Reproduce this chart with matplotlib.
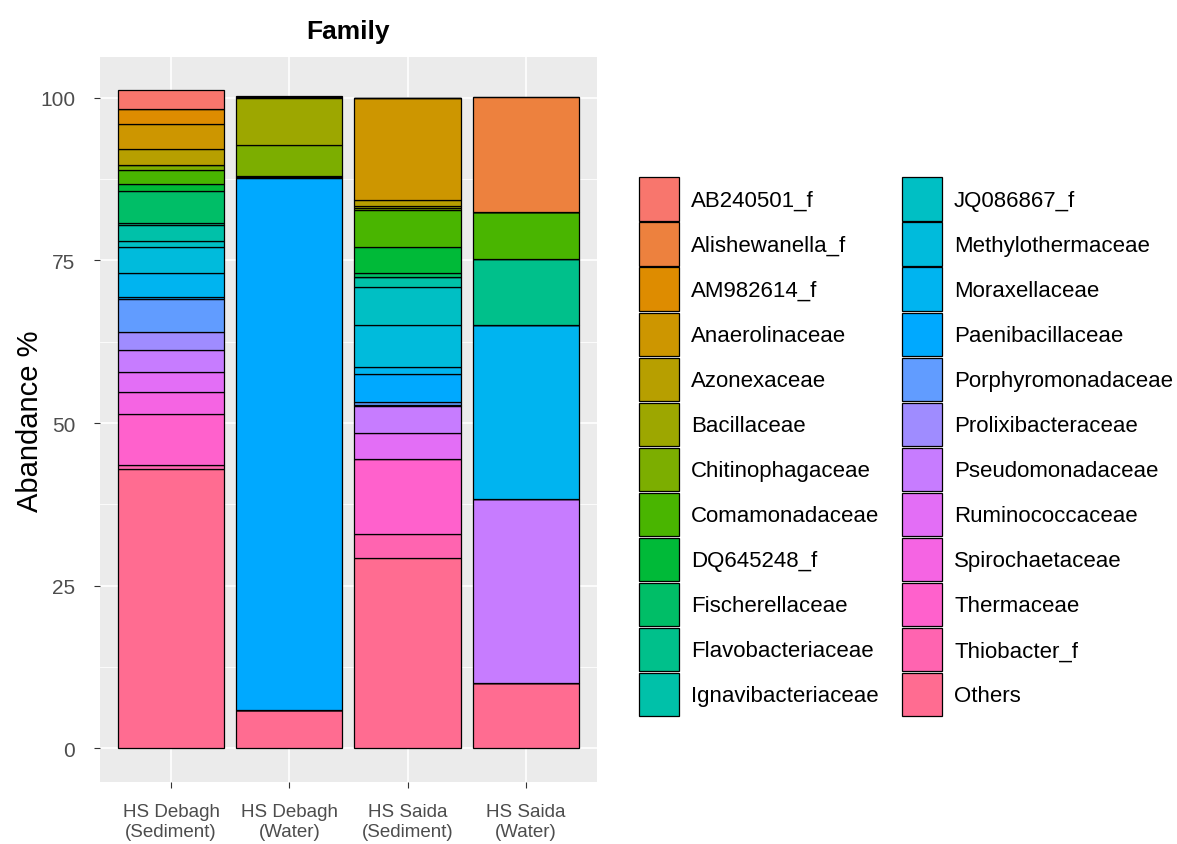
import numpy as np
import matplotlib
matplotlib.use('Agg')
import matplotlib.pyplot as plt
from matplotlib.patches import Patch

plt.rcParams['font.family'] = ['Liberation Sans', 'DejaVu Sans']

samples = ['HS Debagh\n(Sediment)', 'HS Debagh\n(Water)', 'HS Saida\n(Sediment)', 'HS Saida\n(Water)']
families = ['AB240501_f', 'Alishewanella_f', 'AM982614_f', 'Anaerolinaceae', 'Azonexaceae',
            'Bacillaceae', 'Chitinophagaceae', 'Comamonadaceae', 'DQ645248_f', 'Fischerellaceae',
            'Flavobacteriaceae', 'Ignavibacteriaceae', 'JQ086867_f', 'Methylothermaceae',
            'Moraxellaceae', 'Paenibacillaceae', 'Porphyromonadaceae', 'Prolixibacteraceae',
            'Pseudomonadaceae', 'Ruminococcaceae', 'Spirochaetaceae', 'Thermaceae',
            'Thiobacter_f', 'Others']

# abundance (%) per family, same order as families
debagh_sed = [2.8, 0, 2.3, 3.9, 2.5, 0, 0.7, 2.1, 1.2, 4.8, 0.4, 2.5, 0.8, 4.1,
              3.7, 0.2, 5.1, 2.7, 3.4, 3.2, 3.3, 7.8, 0.6, 43.0]
debagh_wat = [0.1, 0, 0, 0, 0.1, 7.2, 4.9, 0, 0.1, 0, 0, 0, 0, 0,
              0.1, 81.8, 0, 0, 0, 0, 0, 0, 0, 5.9]
saida_sed = [0, 0, 0, 15.6, 1.0, 0.3, 0.2, 5.8, 3.9, 0.6, 0, 1.6, 5.8, 6.5,
             1.0, 4.4, 0.4, 0.2, 4.2, 3.9, 0, 11.6, 3.7, 29.2]
saida_wat = [0, 17.6, 0, 0, 0, 0.1, 0, 7.2, 0, 0, 10.1, 0, 0, 0.1,
             26.6, 0, 0, 0, 28.4, 0, 0, 0, 0, 10.0]


def hcl(h, c=100, l=65):
    # ggplot2 default hue palette colour (polar Luv -> sRGB)
    hr = np.deg2rad(h)
    u, v = c * np.cos(hr), c * np.sin(hr)
    Xn, Yn, Zn = 95.047, 100.0, 108.883
    Y = Yn * ((l + 16) / 116) ** 3
    den = Xn + 15 * Yn + 3 * Zn
    up = u / (13 * l) + 4 * Xn / den
    vp = v / (13 * l) + 9 * Yn / den
    X = 9 * Y * up / (4 * vp)
    Z = -X / 3 - 5 * Y + 3 * Y / vp
    M = np.array([[3.240479, -1.537150, -0.498535],
                  [-0.969256, 1.875992, 0.041556],
                  [0.055648, -0.204043, 1.057311]])
    rgb = M @ np.array([X, Y, Z]) / 100
    rgb = np.where(rgb <= 0.0031308, 12.92 * rgb, 1.055 * np.abs(rgb) ** (1 / 2.4) - 0.055)
    return tuple(np.clip(rgb, 0, 1))


colors = [hcl(15 + 15 * i) for i in range(len(families))]

data = np.array([debagh_sed, debagh_wat, saida_sed, saida_wat]).T
x = np.arange(1, len(samples) + 1)

fig = plt.figure(figsize=(11.77, 8.45), dpi=100)
ax = fig.add_axes([0.085, 0.073, 0.422, 0.858])
ax.set_facecolor('#EBEBEB')

# first family on top, Others at the bottom
bottom = np.zeros(len(samples))
for i in range(len(families) - 1, -1, -1):
    ax.bar(x, data[i], 0.9, bottom=bottom, color=colors[i], edgecolor='black',
           linewidth=0.9, zorder=3)
    bottom += data[i]

ax.set_xlim(0.4, 4.6)
ax.set_ylim(-5.2, 106.2)
ax.set_yticks([0, 25, 50, 75, 100])
ax.set_yticks([12.5, 37.5, 62.5, 87.5], minor=True)
ax.set_xticks(x)
ax.set_xticklabels(samples, fontsize=13.5, color='#4D4D4D', linespacing=1.25)
ax.tick_params(axis='y', labelsize=15, labelcolor='#4D4D4D', color='#333333', length=4, pad=14)
ax.tick_params(axis='x', color='#333333', length=4, pad=11)
ax.tick_params(which='minor', length=0)
ax.grid(which='major', color='white', linewidth=1.2, zorder=0)
ax.grid(which='minor', axis='y', color='white', linewidth=0.6, zorder=0)
ax.set_axisbelow(True)
for s in ax.spines.values():
    s.set_visible(False)

ax.set_ylabel('Abandance %', fontsize=21, labelpad=-3)
ax.set_title('Family', fontsize=19, fontweight='bold', pad=14)

handles = [Patch(facecolor=colors[i], edgecolor='black', linewidth=0.9, label=families[i])
           for i in range(len(families))]
fig.legend(handles=handles, loc='center left', bbox_to_anchor=(0.543, 0.47), ncol=2,
           frameon=False, fontsize=16, handlelength=1.8, handleheight=2.62,
           labelspacing=0.08, handletextpad=0.55, columnspacing=1.0, borderpad=0,
           borderaxespad=0)

fig.savefig('out.png', dpi=100)
